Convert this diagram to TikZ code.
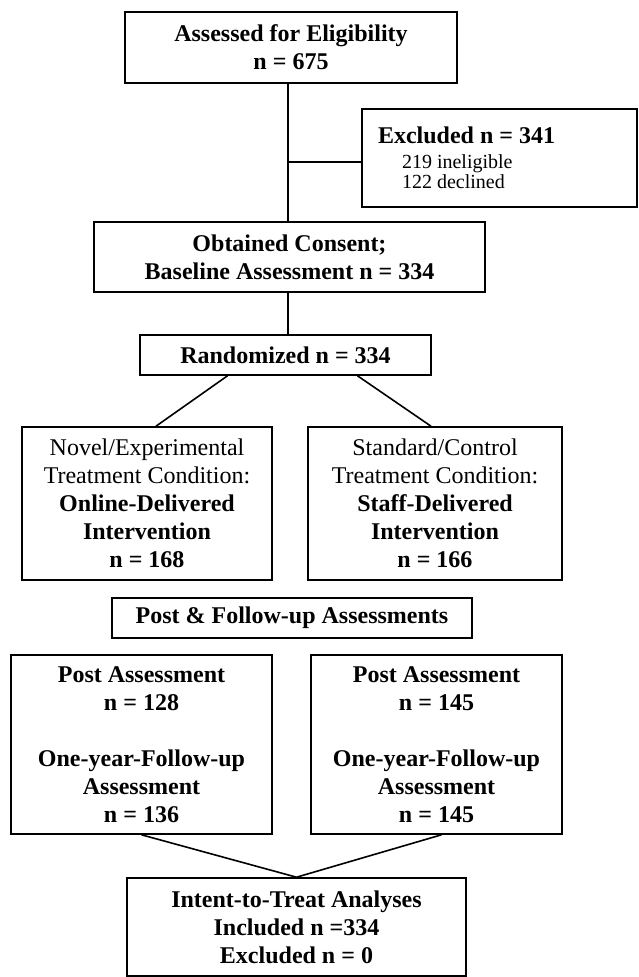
\documentclass[tikz,border=0pt]{standalone}
\usepackage{fontspec}
\setmainfont{Liberation Serif}
\usepackage{tikz}
\usetikzlibrary{calc}

\begin{document}
\begin{tikzpicture}[x=0.5pt, y=-0.5pt,
  box/.style={draw, thick, align=center, inner sep=0pt, font=\fontsize{12}{14}\selectfont}]


\useasboundingbox (0,0) rectangle (638,977);



\node (assessed) at (291, 47.5) [box, minimum width=166pt, minimum height=35.5pt] {\textbf{Assessed for Eligibility}\\ \textbf{n = 675}};

\node (excluded) at (499.5, 158) [box, minimum width=137.5pt, minimum height=49pt] {\parbox{121.5pt}{\textbf{Excluded n = 341}\\[-1.5pt]
  \hspace*{12pt}{\fontsize{10}{10}\selectfont 219 ineligible}\\[-4pt]
  \hspace*{12pt}{\fontsize{10}{10}\selectfont 122 declined}}};

\node (obtained) at (289.5, 257) [box, minimum width=195.5pt, minimum height=35pt] {\textbf{Obtained Consent;}\\ \textbf{Baseline Assessment n = 334}};

\node (randomized) at (285.5, 355) [box, minimum width=145.5pt, minimum height=20pt] {\textbf{Randomized n = 334}};



\node (novel) at (147, 503.5) [box, minimum width=125pt, minimum height=76.5pt] {Novel/Experimental\\ Treatment Condition:\\ \textbf{Online-Delivered}\\ \textbf{Intervention}\\ \textbf{n = 168}};

\node (standard) at (435, 503.5) [box, minimum width=127pt, minimum height=76.5pt] {Standard/Control\\ Treatment Condition:\\ \textbf{Staff-Delivered}\\ \textbf{Intervention}\\ \textbf{n = 166}};

\node (post) at (292, 618) [box, minimum width=180pt, minimum height=20pt] {\textbf{Post \& Follow-up Assessments}};



\node (postleft) at (141.5, 744.5) [box, minimum width=130.5pt, minimum height=89.5pt] {\textbf{Post Assessment}\\ \textbf{n = 128}\\[14pt] \textbf{One-year-Follow-up}\\ \textbf{Assessment}\\ \textbf{n = 136}};

\node (postright) at (436.5, 744.5) [box, minimum width=125.5pt, minimum height=89.5pt] {\textbf{Post Assessment}\\ \textbf{n = 145}\\[14pt] \textbf{One-year-Follow-up}\\ \textbf{Assessment}\\ \textbf{n = 145}};

\node (itt) at (296.5, 927) [box, minimum width=169.5pt, minimum height=49pt] {\textbf{Intent-to-Treat Analyses}\\ \textbf{Included n =334}\\ \textbf{Excluded n = 0}};



\coordinate (split) at (288, 162);

\draw [thick] (assessed.south -| split) -- (obtained.north -| split);

\draw [thick] (split) -- (split -| excluded.west);

\draw [thick] (obtained.south -| split) -- (randomized.north -| split);



\draw [thick] ($(randomized.south)+(-58,0)$) -- ($(novel.north)+(9,0)$);

\draw [thick] ($(randomized.south)+(72,0)$) -- ($(standard.north)+(-4,0)$);

\draw [thick] ($(novel.south west)+(73,0)$) -- ($(novel.south west)+(73,0)$ |- postleft.north);

\draw [thick] ($(standard.south east)+(-78,0)$) -- ($(standard.south east)+(-78,0)$ |- postright.north);



\draw [thick] (postleft.south) -- (itt.north);

\draw [thick] ($(postright.south)+(5,0)$) -- (itt.north);


\end{tikzpicture}
\end{document}
